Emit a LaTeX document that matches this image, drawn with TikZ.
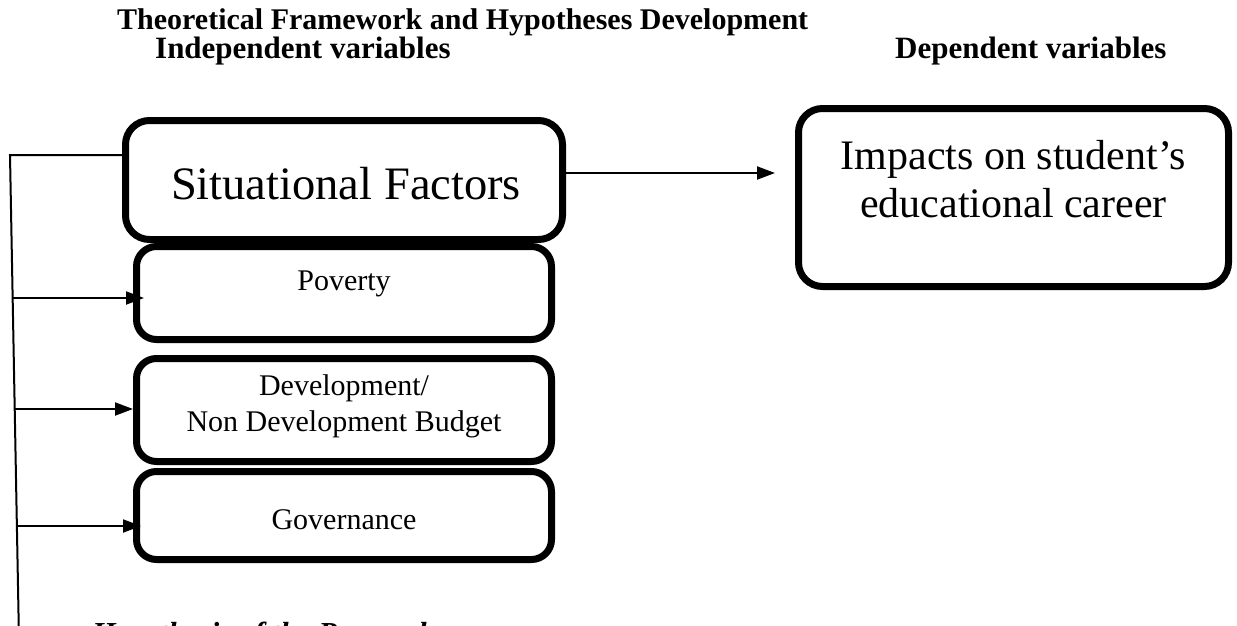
\documentclass[tikz,border=0pt]{standalone}
\usepackage{fontspec}
\setmainfont{Liberation Serif}
\usetikzlibrary{arrows.meta,calc}
\begin{document}
\begin{tikzpicture}[x=1pt,y=-1pt,
  bigbox/.style={draw,line width=7pt,rounded corners=24pt,inner sep=0pt},
  smallbox/.style={draw,line width=7pt,rounded corners=20pt,inner sep=0pt,minimum width=415pt},
  conn/.style={line width=2pt},
  arr/.style={conn,-{Triangle[length=18pt,width=13pt]}},
  head/.style={font=\bfseries\fontsize{31}{36}\selectfont,inner sep=0pt,anchor=west},
  bigtxt/.style={font=\fontsize{46.5}{52}\selectfont,inner sep=0pt,align=center},
  smalltxt/.style={font=\fontsize{30}{36}\selectfont,inner sep=0pt,align=center}]
\useasboundingbox (0,0) rectangle (1237,626);
\clip (0,0) rectangle (1237,626);
\node[head,font=\bfseries\fontsize{30}{36}\selectfont] (title) at (117,22) {Theoretical Framework and Hypotheses Development};
\node[head] (indep) at (155,51) {Independent variables};
\node[head] (dep) at (895,51) {Dependent variables};
% boxes
\node[bigbox,minimum width=437pt,minimum height=119pt] (sit) at (344,180) {};
\node[bigtxt] (sittxt) at (346,184) {Situational Factors};
\node[smallbox,minimum height=93pt] (pov) at (344,293) {};
\node[smalltxt] (povtxt) at (344,284) {Poverty};
\node[smallbox,minimum height=103pt] (dev) at (344,410) {};
\node[smalltxt] (devtxt) at (344,406) {Development/\\Non Development Budget};
\node[smallbox,minimum height=88pt] (gov) at (344,515.5) {};
\node[smalltxt] (govtxt) at (344,520) {Governance};
\node[bigbox,minimum width=430pt,minimum height=178pt] (imp) at (1013.5,197.5) {};
\node[bigtxt,font=\fontsize{42}{48}\selectfont] (imptxt) at (1013.5,179) {Impacts on student’s\\educational career};
% connectors
\coordinate (top) at (10,155);
\coordinate (bot) at (19,640);
\coordinate (a1) at (12.7,298);
\coordinate (a2) at (14.9,409);
\coordinate (a3) at (17.1,526);
\draw[conn] (sit.west |- top) -- (top) -- (bot);
\draw[arr] (a1) -- (a1 -| pov.west) -- ++(11,0);
\draw[arr] (a2) -- (a2 -| dev.west);
\draw[arr] (a3) -- (a3 -| gov.west) -- ++(8,0);
\draw[arr] (sit.east |- 0,173) -- (775,173);
\node[font=\bfseries\itshape\fontsize{30.5}{36}\selectfont,anchor=base west,inner sep=0pt] (hyp) at (92,643) {Hypothesis of the Research};
\end{tikzpicture}
\end{document}
